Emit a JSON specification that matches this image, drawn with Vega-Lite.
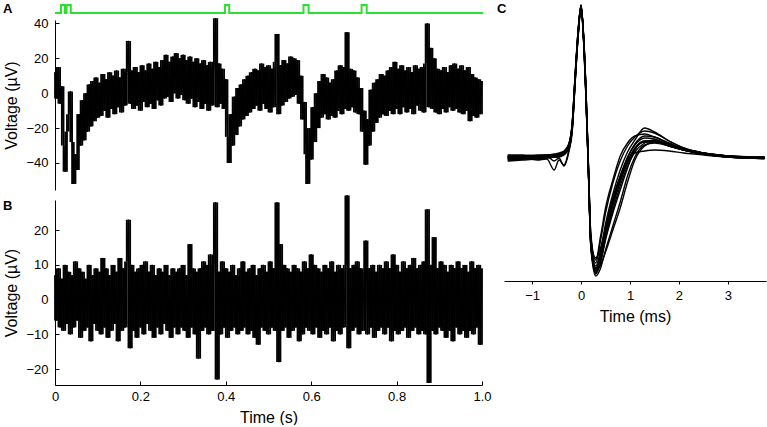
{
"$schema":"https://vega.github.io/schema/vega-lite/v6.json",
"padding":{"left":2,"top":1,"right":0,"bottom":0},
"config":{
 "view":{"stroke":null},
 "font":"Liberation Sans",
 "axis":{"grid":false,"domainColor":"#000","tickColor":"#000","labelColor":"#000","titleColor":"#000","labelFontSize":13,"titleFontSize":16,"titleFontWeight":"normal","labelFont":"Liberation Sans","titleFont":"Liberation Sans","domainWidth":1,"tickWidth":1,"labelFlush":false,"labelOverlap":false}
},
"datasets":{
"stim":[{"i":0,"t":0,"s":0},{"i":1,"t":0.014,"s":0},{"i":2,"t":0.014,"s":1},{"i":3,"t":0.023,"s":1},{"i":4,"t":0.023,"s":0},{"i":5,"t":0.027,"s":0},{"i":6,"t":0.027,"s":1},{"i":7,"t":0.037,"s":1},{"i":8,"t":0.037,"s":0},{"i":9,"t":0.398,"s":0},{"i":10,"t":0.398,"s":1},{"i":11,"t":0.408,"s":1},{"i":12,"t":0.408,"s":0},{"i":13,"t":0.582,"s":0},{"i":14,"t":0.582,"s":1},{"i":15,"t":0.594,"s":1},{"i":16,"t":0.594,"s":0},{"i":17,"t":0.718,"s":0},{"i":18,"t":0.718,"s":1},{"i":19,"t":0.73,"s":1},{"i":20,"t":0.73,"s":0},{"i":21,"t":1.003,"s":0}],
"trace":[
{"t":0,"a":12,"b":7},{"t":0.004,"a":-3,"b":-6},{"t":0.008,"a":15,"b":9},{"t":0.012,"a":-6,"b":-8},{"t":0.016,"a":4,"b":6},{"t":0.02,"a":-30,"b":-9},{"t":0.024,"a":-45,"b":10},{"t":0.028,"a":-22,"b":-7},{"t":0.032,"a":-12,"b":8},{"t":0.036,"a":1,"b":-10},
{"t":0.04,"a":-28,"b":7},{"t":0.044,"a":-52,"b":-8},{"t":0.048,"a":-35,"b":11},{"t":0.052,"a":-44,"b":-6},{"t":0.056,"a":-12,"b":9},{"t":0.06,"a":-30,"b":-11},{"t":0.064,"a":-4,"b":8},{"t":0.068,"a":-27,"b":-9},{"t":0.072,"a":0,"b":6},{"t":0.076,"a":-22,"b":-8},
{"t":0.08,"a":5,"b":10},{"t":0.084,"a":-19,"b":-12},{"t":0.088,"a":7,"b":7},{"t":0.092,"a":-16,"b":-7},{"t":0.096,"a":9,"b":9},{"t":0.1,"a":-14,"b":-9},{"t":0.104,"a":6,"b":8},{"t":0.108,"a":-13,"b":-10},{"t":0.112,"a":11,"b":12},{"t":0.116,"a":-10,"b":-8},
{"t":0.12,"a":8,"b":9},{"t":0.124,"a":-14,"b":-11},{"t":0.128,"a":12,"b":7},{"t":0.132,"a":-9,"b":-9},{"t":0.136,"a":10,"b":10},{"t":0.14,"a":-12,"b":-7},{"t":0.144,"a":13,"b":8},{"t":0.148,"a":-8,"b":-12},{"t":0.152,"a":9,"b":12},{"t":0.156,"a":-11,"b":-9},
{"t":0.16,"a":14,"b":9},{"t":0.164,"a":-7,"b":-8},{"t":0.168,"a":12,"b":11},{"t":0.172,"a":30,"b":23},{"t":0.176,"a":-6,"b":-14},{"t":0.18,"a":13,"b":10},{"t":0.184,"a":-9,"b":-9},{"t":0.188,"a":15,"b":8},{"t":0.192,"a":-7,"b":-11},{"t":0.196,"a":12,"b":9},
{"t":0.2,"a":-10,"b":-8},{"t":0.204,"a":16,"b":10},{"t":0.208,"a":-5,"b":-10},{"t":0.212,"a":13,"b":11},{"t":0.216,"a":-8,"b":-7},{"t":0.22,"a":17,"b":8},{"t":0.224,"a":-6,"b":-9},{"t":0.228,"a":14,"b":10},{"t":0.232,"a":-9,"b":-11},{"t":0.236,"a":18,"b":7},
{"t":0.24,"a":-4,"b":-8},{"t":0.244,"a":15,"b":9},{"t":0.248,"a":-7,"b":-10},{"t":0.252,"a":19,"b":8},{"t":0.256,"a":-3,"b":-7},{"t":0.26,"a":22,"b":10},{"t":0.264,"a":-2,"b":-9},{"t":0.268,"a":18,"b":7},{"t":0.272,"a":-5,"b":-11},{"t":0.276,"a":21,"b":9},
{"t":0.28,"a":0,"b":-8},{"t":0.284,"a":23,"b":8},{"t":0.288,"a":-3,"b":-10},{"t":0.292,"a":20,"b":9},{"t":0.296,"a":-1,"b":-8},{"t":0.3,"a":22,"b":10},{"t":0.304,"a":-4,"b":-9},{"t":0.308,"a":19,"b":7},{"t":0.312,"a":-6,"b":-11},{"t":0.316,"a":21,"b":16},
{"t":0.32,"a":-3,"b":-8},{"t":0.324,"a":18,"b":9},{"t":0.328,"a":-8,"b":-10},{"t":0.332,"a":20,"b":8},{"t":0.336,"a":-5,"b":-17},{"t":0.34,"a":17,"b":9},{"t":0.344,"a":-9,"b":-9},{"t":0.348,"a":19,"b":11},{"t":0.352,"a":-6,"b":-8},{"t":0.356,"a":16,"b":10},
{"t":0.36,"a":-10,"b":-10},{"t":0.364,"a":18,"b":13},{"t":0.368,"a":-7,"b":-9},{"t":0.372,"a":15,"b":10},{"t":0.376,"a":43,"b":28},{"t":0.38,"a":-8,"b":-23},{"t":0.384,"a":17,"b":8},{"t":0.388,"a":-6,"b":-10},{"t":0.392,"a":14,"b":11},{"t":0.396,"a":-9,"b":-8},
{"t":0.4,"a":8,"b":9},{"t":0.404,"a":-25,"b":-11},{"t":0.408,"a":-40,"b":8},{"t":0.412,"a":-12,"b":-9},{"t":0.416,"a":-30,"b":10},{"t":0.42,"a":-2,"b":-8},{"t":0.424,"a":-24,"b":7},{"t":0.428,"a":3,"b":-10},{"t":0.432,"a":-19,"b":9},{"t":0.436,"a":5,"b":-9},
{"t":0.44,"a":-15,"b":11},{"t":0.444,"a":8,"b":-8},{"t":0.448,"a":-13,"b":8},{"t":0.452,"a":10,"b":-10},{"t":0.456,"a":-11,"b":9},{"t":0.46,"a":12,"b":-9},{"t":0.464,"a":-9,"b":10},{"t":0.468,"a":14,"b":-11},{"t":0.472,"a":-7,"b":7},{"t":0.476,"a":13,"b":-13},
{"t":0.48,"a":-10,"b":9},{"t":0.484,"a":17,"b":-8},{"t":0.488,"a":-6,"b":10},{"t":0.492,"a":15,"b":-9},{"t":0.496,"a":-9,"b":8},{"t":0.5,"a":16,"b":-10},{"t":0.504,"a":-11,"b":11},{"t":0.508,"a":14,"b":-8},{"t":0.512,"a":-8,"b":9},{"t":0.516,"a":18,"b":-9},
{"t":0.52,"a":34,"b":28},{"t":0.524,"a":-12,"b":-18},{"t":0.528,"a":16,"b":16},{"t":0.532,"a":-7,"b":-9},{"t":0.536,"a":19,"b":10},{"t":0.54,"a":-5,"b":-8},{"t":0.544,"a":17,"b":9},{"t":0.548,"a":-3,"b":-11},{"t":0.552,"a":21,"b":8},{"t":0.556,"a":-2,"b":-9},
{"t":0.56,"a":20,"b":10},{"t":0.564,"a":-1,"b":-8},{"t":0.568,"a":19,"b":9},{"t":0.572,"a":-6,"b":-12},{"t":0.576,"a":10,"b":8},{"t":0.58,"a":-15,"b":-10},{"t":0.584,"a":-5,"b":11},{"t":0.588,"a":-35,"b":-8},{"t":0.592,"a":-52,"b":9},{"t":0.596,"a":-20,"b":-9},
{"t":0.6,"a":-38,"b":13},{"t":0.604,"a":-8,"b":-10},{"t":0.608,"a":-28,"b":10},{"t":0.612,"a":0,"b":-8},{"t":0.616,"a":-20,"b":9},{"t":0.62,"a":7,"b":-11},{"t":0.624,"a":-14,"b":8},{"t":0.628,"a":11,"b":-9},{"t":0.632,"a":-12,"b":10},{"t":0.636,"a":9,"b":-10},
{"t":0.64,"a":-15,"b":9},{"t":0.644,"a":6,"b":-8},{"t":0.648,"a":-13,"b":11},{"t":0.652,"a":8,"b":-12},{"t":0.656,"a":-14,"b":8},{"t":0.66,"a":13,"b":-9},{"t":0.664,"a":-10,"b":10},{"t":0.668,"a":16,"b":-10},{"t":0.672,"a":-12,"b":9},{"t":0.676,"a":15,"b":-8},
{"t":0.68,"a":-9,"b":10},{"t":0.684,"a":35,"b":30},{"t":0.688,"a":-10,"b":-14},{"t":0.692,"a":14,"b":9},{"t":0.696,"a":-8,"b":-9},{"t":0.7,"a":13,"b":10},{"t":0.704,"a":-11,"b":-8},{"t":0.708,"a":9,"b":11},{"t":0.712,"a":-12,"b":-10},{"t":0.716,"a":3,"b":9},
{"t":0.72,"a":-22,"b":-9},{"t":0.724,"a":-10,"b":8},{"t":0.728,"a":-41,"b":17},{"t":0.732,"a":-15,"b":-10},{"t":0.736,"a":-30,"b":9},{"t":0.74,"a":2,"b":-8},{"t":0.744,"a":-22,"b":10},{"t":0.748,"a":6,"b":-11},{"t":0.752,"a":-17,"b":8},{"t":0.756,"a":8,"b":-9},
{"t":0.76,"a":-14,"b":10},{"t":0.764,"a":11,"b":-8},{"t":0.768,"a":-12,"b":9},{"t":0.772,"a":10,"b":-10},{"t":0.776,"a":-13,"b":11},{"t":0.78,"a":13,"b":-8},{"t":0.784,"a":-10,"b":9},{"t":0.788,"a":15,"b":-12},{"t":0.792,"a":-12,"b":13},{"t":0.796,"a":18,"b":-9},
{"t":0.8,"a":-9,"b":10},{"t":0.804,"a":14,"b":-10},{"t":0.808,"a":-12,"b":8},{"t":0.812,"a":16,"b":-9},{"t":0.816,"a":-8,"b":11},{"t":0.82,"a":13,"b":-8},{"t":0.824,"a":-11,"b":9},{"t":0.828,"a":15,"b":-11},{"t":0.832,"a":-9,"b":10},{"t":0.836,"a":12,"b":-9},
{"t":0.84,"a":-12,"b":12},{"t":0.844,"a":16,"b":-8},{"t":0.848,"a":-7,"b":9},{"t":0.852,"a":14,"b":-10},{"t":0.856,"a":-10,"b":10},{"t":0.86,"a":15,"b":-9},{"t":0.864,"a":-11,"b":11},{"t":0.868,"a":17,"b":-10},{"t":0.872,"a":40,"b":26},{"t":0.876,"a":-8,"b":-24},
{"t":0.88,"a":26,"b":10},{"t":0.884,"a":-9,"b":-9},{"t":0.888,"a":20,"b":18},{"t":0.892,"a":-11,"b":-10},{"t":0.896,"a":14,"b":9},{"t":0.9,"a":-12,"b":-8},{"t":0.904,"a":13,"b":11},{"t":0.908,"a":-9,"b":-9},{"t":0.912,"a":15,"b":10},{"t":0.916,"a":-11,"b":-11},
{"t":0.92,"a":12,"b":8},{"t":0.924,"a":-8,"b":-9},{"t":0.928,"a":16,"b":10},{"t":0.932,"a":-10,"b":-12},{"t":0.936,"a":17,"b":9},{"t":0.94,"a":-9,"b":-8},{"t":0.944,"a":14,"b":11},{"t":0.948,"a":-11,"b":-10},{"t":0.952,"a":16,"b":9},{"t":0.956,"a":-12,"b":-9},
{"t":0.96,"a":13,"b":10},{"t":0.964,"a":-10,"b":-11},{"t":0.968,"a":15,"b":8},{"t":0.972,"a":-16,"b":-9},{"t":0.976,"a":11,"b":11},{"t":0.98,"a":-13,"b":-10},{"t":0.984,"a":9,"b":9},{"t":0.988,"a":-14,"b":-8},{"t":0.992,"a":8,"b":10},{"t":0.996,"a":-12,"b":-13},
{"t":1.0,"a":7,"b":9}
],
"wave":[
{"w":0,"t":-1.5,"v":0},{"w":0,"t":-1.2,"v":1},{"w":0,"t":-0.9,"v":1},{"w":0,"t":-0.7,"v":2},{"w":0,"t":-0.55,"v":2},{"w":0,"t":-0.45,"v":3},{"w":0,"t":-0.35,"v":5},{"w":0,"t":-0.25,"v":12},{"w":0,"t":-0.18,"v":33},{"w":0,"t":-0.12,"v":80},{"w":0,"t":-0.06,"v":125},{"w":0,"t":0,"v":152},{"w":0,"t":0.05,"v":122},{"w":0,"t":0.1,"v":65},{"w":0,"t":0.15,"v":-10},{"w":0,"t":0.2,"v":-85},{"w":0,"t":0.3,"v":-112},{"w":0,"t":0.4,"v":-100},{"w":0,"t":0.5,"v":-75},{"w":0,"t":0.65,"v":-45},{"w":0,"t":0.8,"v":-22},{"w":0,"t":0.95,"v":-3},{"w":0,"t":1.1,"v":10},{"w":0,"t":1.3,"v":17},{"w":0,"t":1.5,"v":17},{"w":0,"t":1.8,"v":12},{"w":0,"t":2.1,"v":8},{"w":0,"t":2.5,"v":4},{"w":0,"t":3.0,"v":2},{"w":0,"t":3.5,"v":0},{"w":0,"t":3.75,"v":0},
{"w":1,"t":-1.5,"v":-3},{"w":1,"t":-1.2,"v":-2},{"w":1,"t":-0.9,"v":-1},{"w":1,"t":-0.7,"v":0},{"w":1,"t":-0.55,"v":1},{"w":1,"t":-0.45,"v":2},{"w":1,"t":-0.35,"v":4},{"w":1,"t":-0.25,"v":10},{"w":1,"t":-0.18,"v":30},{"w":1,"t":-0.12,"v":76},{"w":1,"t":-0.06,"v":122},{"w":1,"t":0,"v":151},{"w":1,"t":0.05,"v":120},{"w":1,"t":0.1,"v":60},{"w":1,"t":0.15,"v":-15},{"w":1,"t":0.2,"v":-90},{"w":1,"t":0.3,"v":-118},{"w":1,"t":0.4,"v":-110},{"w":1,"t":0.5,"v":-92},{"w":1,"t":0.65,"v":-68},{"w":1,"t":0.8,"v":-44},{"w":1,"t":0.95,"v":-18},{"w":1,"t":1.1,"v":1},{"w":1,"t":1.3,"v":13},{"w":1,"t":1.5,"v":15},{"w":1,"t":1.8,"v":12},{"w":1,"t":2.1,"v":8},{"w":1,"t":2.5,"v":4},{"w":1,"t":3.0,"v":1},{"w":1,"t":3.5,"v":0},{"w":1,"t":3.75,"v":-1},
{"w":2,"t":-1.5,"v":3},{"w":2,"t":-1.2,"v":3},{"w":2,"t":-0.9,"v":2},{"w":2,"t":-0.7,"v":3},{"w":2,"t":-0.55,"v":4},{"w":2,"t":-0.45,"v":5},{"w":2,"t":-0.35,"v":7},{"w":2,"t":-0.25,"v":14},{"w":2,"t":-0.18,"v":36},{"w":2,"t":-0.12,"v":84},{"w":2,"t":-0.06,"v":128},{"w":2,"t":0,"v":153},{"w":2,"t":0.05,"v":124},{"w":2,"t":0.1,"v":70},{"w":2,"t":0.15,"v":-5},{"w":2,"t":0.2,"v":-78},{"w":2,"t":0.3,"v":-105},{"w":2,"t":0.4,"v":-82},{"w":2,"t":0.5,"v":-55},{"w":2,"t":0.65,"v":-25},{"w":2,"t":0.8,"v":-3},{"w":2,"t":0.95,"v":12},{"w":2,"t":1.1,"v":21},{"w":2,"t":1.3,"v":27},{"w":2,"t":1.5,"v":25},{"w":2,"t":1.8,"v":17},{"w":2,"t":2.1,"v":10},{"w":2,"t":2.5,"v":5},{"w":2,"t":3.0,"v":2},{"w":2,"t":3.5,"v":1},{"w":2,"t":3.75,"v":1},
{"w":3,"t":-1.5,"v":1},{"w":3,"t":-1.2,"v":0},{"w":3,"t":-0.9,"v":-2},{"w":3,"t":-0.7,"v":-1},{"w":3,"t":-0.55,"v":-12},{"w":3,"t":-0.45,"v":-2},{"w":3,"t":-0.35,"v":-7},{"w":3,"t":-0.25,"v":8},{"w":3,"t":-0.18,"v":28},{"w":3,"t":-0.12,"v":78},{"w":3,"t":-0.06,"v":124},{"w":3,"t":0,"v":152},{"w":3,"t":0.05,"v":121},{"w":3,"t":0.1,"v":63},{"w":3,"t":0.15,"v":-12},{"w":3,"t":0.2,"v":-86},{"w":3,"t":0.3,"v":-114},{"w":3,"t":0.4,"v":-102},{"w":3,"t":0.5,"v":-78},{"w":3,"t":0.65,"v":-48},{"w":3,"t":0.8,"v":-24},{"w":3,"t":0.95,"v":-5},{"w":3,"t":1.1,"v":9},{"w":3,"t":1.3,"v":16},{"w":3,"t":1.5,"v":16},{"w":3,"t":1.8,"v":12},{"w":3,"t":2.1,"v":8},{"w":3,"t":2.5,"v":4},{"w":3,"t":3.0,"v":2},{"w":3,"t":3.5,"v":0},{"w":3,"t":3.75,"v":0},
{"w":4,"t":-1.5,"v":-1},{"w":4,"t":-1.2,"v":0},{"w":4,"t":-0.9,"v":0},{"w":4,"t":-0.7,"v":1},{"w":4,"t":-0.55,"v":2},{"w":4,"t":-0.45,"v":2},{"w":4,"t":-0.35,"v":4},{"w":4,"t":-0.25,"v":11},{"w":4,"t":-0.18,"v":31},{"w":4,"t":-0.12,"v":79},{"w":4,"t":-0.06,"v":123},{"w":4,"t":0,"v":150},{"w":4,"t":0.05,"v":118},{"w":4,"t":0.1,"v":62},{"w":4,"t":0.15,"v":-12},{"w":4,"t":0.2,"v":-84},{"w":4,"t":0.3,"v":-100},{"w":4,"t":0.4,"v":-90},{"w":4,"t":0.5,"v":-70},{"w":4,"t":0.65,"v":-40},{"w":4,"t":0.8,"v":-18},{"w":4,"t":0.95,"v":-2},{"w":4,"t":1.1,"v":5},{"w":4,"t":1.3,"v":7},{"w":4,"t":1.5,"v":8},{"w":4,"t":1.8,"v":7},{"w":4,"t":2.1,"v":5},{"w":4,"t":2.5,"v":3},{"w":4,"t":3.0,"v":1},{"w":4,"t":3.5,"v":0},{"w":4,"t":3.75,"v":0},
{"w":5,"t":-1.5,"v":2},{"w":5,"t":-1.2,"v":1},{"w":5,"t":-0.9,"v":2},{"w":5,"t":-0.7,"v":3},{"w":5,"t":-0.55,"v":3},{"w":5,"t":-0.45,"v":4},{"w":5,"t":-0.35,"v":6},{"w":5,"t":-0.25,"v":13},{"w":5,"t":-0.18,"v":34},{"w":5,"t":-0.12,"v":82},{"w":5,"t":-0.06,"v":126},{"w":5,"t":0,"v":152},{"w":5,"t":0.05,"v":123},{"w":5,"t":0.1,"v":67},{"w":5,"t":0.15,"v":-8},{"w":5,"t":0.2,"v":-83},{"w":5,"t":0.3,"v":-110},{"w":5,"t":0.4,"v":-96},{"w":5,"t":0.5,"v":-72},{"w":5,"t":0.65,"v":-42},{"w":5,"t":0.8,"v":-18},{"w":5,"t":0.95,"v":1},{"w":5,"t":1.1,"v":13},{"w":5,"t":1.3,"v":20},{"w":5,"t":1.5,"v":19},{"w":5,"t":1.8,"v":13},{"w":5,"t":2.1,"v":9},{"w":5,"t":2.5,"v":5},{"w":5,"t":3.0,"v":2},{"w":5,"t":3.5,"v":1},{"w":5,"t":3.75,"v":0},
{"w":6,"t":-1.5,"v":-2},{"w":6,"t":-1.2,"v":-1},{"w":6,"t":-0.9,"v":0},{"w":6,"t":-0.7,"v":1},{"w":6,"t":-0.55,"v":1},{"w":6,"t":-0.45,"v":2},{"w":6,"t":-0.35,"v":5},{"w":6,"t":-0.25,"v":12},{"w":6,"t":-0.18,"v":32},{"w":6,"t":-0.12,"v":80},{"w":6,"t":-0.06,"v":124},{"w":6,"t":0,"v":151},{"w":6,"t":0.05,"v":121},{"w":6,"t":0.1,"v":64},{"w":6,"t":0.15,"v":-11},{"w":6,"t":0.2,"v":-86},{"w":6,"t":0.3,"v":-115},{"w":6,"t":0.4,"v":-104},{"w":6,"t":0.5,"v":-80},{"w":6,"t":0.65,"v":-52},{"w":6,"t":0.8,"v":-28},{"w":6,"t":0.95,"v":-8},{"w":6,"t":1.1,"v":6},{"w":6,"t":1.3,"v":15},{"w":6,"t":1.5,"v":18},{"w":6,"t":1.8,"v":13},{"w":6,"t":2.1,"v":8},{"w":6,"t":2.5,"v":4},{"w":6,"t":3.0,"v":1},{"w":6,"t":3.5,"v":0},{"w":6,"t":3.75,"v":0},
{"w":7,"t":-1.5,"v":1},{"w":7,"t":-1.2,"v":2},{"w":7,"t":-0.9,"v":1},{"w":7,"t":-0.7,"v":1},{"w":7,"t":-0.55,"v":2},{"w":7,"t":-0.45,"v":3},{"w":7,"t":-0.35,"v":5},{"w":7,"t":-0.25,"v":11},{"w":7,"t":-0.18,"v":32},{"w":7,"t":-0.12,"v":81},{"w":7,"t":-0.06,"v":125},{"w":7,"t":0,"v":152},{"w":7,"t":0.05,"v":122},{"w":7,"t":0.1,"v":66},{"w":7,"t":0.15,"v":-9},{"w":7,"t":0.2,"v":-84},{"w":7,"t":0.3,"v":-111},{"w":7,"t":0.4,"v":-98},{"w":7,"t":0.5,"v":-74},{"w":7,"t":0.65,"v":-44},{"w":7,"t":0.8,"v":-20},{"w":7,"t":0.95,"v":0},{"w":7,"t":1.1,"v":14},{"w":7,"t":1.3,"v":22},{"w":7,"t":1.5,"v":21},{"w":7,"t":1.8,"v":14},{"w":7,"t":2.1,"v":9},{"w":7,"t":2.5,"v":5},{"w":7,"t":3.0,"v":2},{"w":7,"t":3.5,"v":0},{"w":7,"t":3.75,"v":1},
{"w":8,"t":-1.5,"v":0},{"w":8,"t":-1.2,"v":-1},{"w":8,"t":-0.9,"v":1},{"w":8,"t":-0.7,"v":2},{"w":8,"t":-0.55,"v":-3},{"w":8,"t":-0.45,"v":0},{"w":8,"t":-0.35,"v":-8},{"w":8,"t":-0.25,"v":6},{"w":8,"t":-0.18,"v":27},{"w":8,"t":-0.12,"v":76},{"w":8,"t":-0.06,"v":121},{"w":8,"t":0,"v":150},{"w":8,"t":0.05,"v":119},{"w":8,"t":0.1,"v":61},{"w":8,"t":0.15,"v":-14},{"w":8,"t":0.2,"v":-88},{"w":8,"t":0.3,"v":-116},{"w":8,"t":0.4,"v":-104},{"w":8,"t":0.5,"v":-82},{"w":8,"t":0.65,"v":-55},{"w":8,"t":0.8,"v":-32},{"w":8,"t":0.95,"v":-10},{"w":8,"t":1.1,"v":8},{"w":8,"t":1.3,"v":17},{"w":8,"t":1.5,"v":17},{"w":8,"t":1.8,"v":12},{"w":8,"t":2.1,"v":8},{"w":8,"t":2.5,"v":4},{"w":8,"t":3.0,"v":1},{"w":8,"t":3.5,"v":0},{"w":8,"t":3.75,"v":0},
{"w":9,"t":-1.5,"v":2},{"w":9,"t":-1.2,"v":2},{"w":9,"t":-0.9,"v":3},{"w":9,"t":-0.7,"v":3},{"w":9,"t":-0.55,"v":3},{"w":9,"t":-0.45,"v":4},{"w":9,"t":-0.35,"v":6},{"w":9,"t":-0.25,"v":13},{"w":9,"t":-0.18,"v":34},{"w":9,"t":-0.12,"v":83},{"w":9,"t":-0.06,"v":127},{"w":9,"t":0,"v":153},{"w":9,"t":0.05,"v":124},{"w":9,"t":0.1,"v":68},{"w":9,"t":0.15,"v":-7},{"w":9,"t":0.2,"v":-80},{"w":9,"t":0.3,"v":-108},{"w":9,"t":0.4,"v":-92},{"w":9,"t":0.5,"v":-66},{"w":9,"t":0.65,"v":-36},{"w":9,"t":0.8,"v":-12},{"w":9,"t":0.95,"v":6},{"w":9,"t":1.1,"v":18},{"w":9,"t":1.3,"v":30},{"w":9,"t":1.5,"v":26},{"w":9,"t":1.8,"v":17},{"w":9,"t":2.1,"v":10},{"w":9,"t":2.5,"v":5},{"w":9,"t":3.0,"v":2},{"w":9,"t":3.5,"v":1},{"w":9,"t":3.75,"v":1},
{"w":10,"t":-1.5,"v":-1},{"w":10,"t":-1.2,"v":0},{"w":10,"t":-0.9,"v":-1},{"w":10,"t":-0.7,"v":0},{"w":10,"t":-0.55,"v":1},{"w":10,"t":-0.45,"v":1},{"w":10,"t":-0.35,"v":3},{"w":10,"t":-0.25,"v":9},{"w":10,"t":-0.18,"v":29},{"w":10,"t":-0.12,"v":77},{"w":10,"t":-0.06,"v":122},{"w":10,"t":0,"v":151},{"w":10,"t":0.05,"v":120},{"w":10,"t":0.1,"v":62},{"w":10,"t":0.15,"v":-13},{"w":10,"t":0.2,"v":-87},{"w":10,"t":0.3,"v":-113},{"w":10,"t":0.4,"v":-107},{"w":10,"t":0.5,"v":-94},{"w":10,"t":0.65,"v":-72},{"w":10,"t":0.8,"v":-50},{"w":10,"t":0.95,"v":-24},{"w":10,"t":1.1,"v":-2},{"w":10,"t":1.3,"v":12},{"w":10,"t":1.5,"v":16},{"w":10,"t":1.8,"v":13},{"w":10,"t":2.1,"v":9},{"w":10,"t":2.5,"v":4},{"w":10,"t":3.0,"v":1},{"w":10,"t":3.5,"v":0},{"w":10,"t":3.75,"v":0},
{"w":11,"t":-1.5,"v":1},{"w":11,"t":-1.2,"v":1},{"w":11,"t":-0.9,"v":2},{"w":11,"t":-0.7,"v":2},{"w":11,"t":-0.55,"v":3},{"w":11,"t":-0.45,"v":3},{"w":11,"t":-0.35,"v":6},{"w":11,"t":-0.25,"v":14},{"w":11,"t":-0.18,"v":35},{"w":11,"t":-0.12,"v":84},{"w":11,"t":-0.06,"v":127},{"w":11,"t":0,"v":152},{"w":11,"t":0.05,"v":123},{"w":11,"t":0.1,"v":69},{"w":11,"t":0.15,"v":-6},{"w":11,"t":0.2,"v":-76},{"w":11,"t":0.3,"v":-102},{"w":11,"t":0.4,"v":-78},{"w":11,"t":0.5,"v":-50},{"w":11,"t":0.65,"v":-22},{"w":11,"t":0.8,"v":2},{"w":11,"t":0.95,"v":15},{"w":11,"t":1.1,"v":22},{"w":11,"t":1.3,"v":24},{"w":11,"t":1.5,"v":21},{"w":11,"t":1.8,"v":15},{"w":11,"t":2.1,"v":9},{"w":11,"t":2.5,"v":4},{"w":11,"t":3.0,"v":2},{"w":11,"t":3.5,"v":1},{"w":11,"t":3.75,"v":0}
]
},
"spacing":4,
"hconcat":[
 {"bounds":"flush","spacing":10,"vconcat":[
   {"width":427,"height":5,
    "layer":[
     {"data":{"name":"stim"},"mark":{"type":"line","color":"#2ee02e","strokeWidth":2,"clip":false},
      "encoding":{"x":{"field":"t","type":"quantitative","scale":{"domain":[0,1],"nice":false},"axis":null},
                  "y":{"field":"s","type":"quantitative","scale":{"domain":[0.375,1],"nice":false,"zero":false},"axis":null},
                  "order":{"field":"i","type":"quantitative"}}},
     {"data":{"values":[{}]},"mark":{"type":"text","text":"A","fontWeight":"bold","fontSize":13,"align":"left","baseline":"alphabetic","font":"Liberation Sans"},
      "encoding":{"x":{"datum":-0.122,"type":"quantitative"},"y":{"datum":0,"type":"quantitative"}}}
    ]},
   {"width":427,"height":170,
    "data":{"name":"trace"},
    "transform":[{"window":[{"op":"lead","field":"a","as":"a2"},{"op":"lag","field":"a","as":"a0"}],"sort":[{"field":"t"}]}],
    "layer":[
     {"transform":[{"filter":"datum.a2 != null"}],
      "mark":{"type":"rule","color":"#000","strokeWidth":1.8},
      "encoding":{"x":{"field":"t","type":"quantitative","scale":{"domain":[0,1],"nice":false},"axis":null},
                  "y":{"field":"a","type":"quantitative","scale":{"domain":[-55.5,42],"nice":false,"zero":false},
                       "axis":{"title":"Voltage (µV)","values":[-40,-20,0,20,40],"tickSize":-4,"labelPadding":11,"titlePadding":6}},
                  "y2":{"field":"a2"}}},
     {"transform":[{"filter":"datum.a0 != null"}],
      "mark":{"type":"rule","color":"#000","strokeWidth":1.8},
      "encoding":{"x":{"field":"t","type":"quantitative"},"y":{"field":"a","type":"quantitative"},"y2":{"field":"a0"}}},
     {"mark":{"type":"line","color":"#000","strokeWidth":1},
      "encoding":{"x":{"field":"t","type":"quantitative"},"y":{"field":"a","type":"quantitative"}}}
    ]},
   {"width":427,"height":185,
    "data":{"name":"trace"},
    "transform":[{"window":[{"op":"lead","field":"b","as":"b2"},{"op":"lag","field":"b","as":"b0"}],"sort":[{"field":"t"}]}],
    "layer":[
     {"transform":[{"filter":"datum.b2 != null"}],
      "mark":{"type":"rule","color":"#000","strokeWidth":1.8},
      "encoding":{"x":{"field":"t","type":"quantitative","scale":{"domain":[0,1],"nice":false},
                       "axis":{"title":"Time (s)","values":[0,0.2,0.4,0.6,0.8,1.0],"labelExpr":"datum.value == 0 ? '0' : format(datum.value, '.1f')","tickSize":-4,"labelPadding":9,"titlePadding":6}},
                  "y":{"field":"b","type":"quantitative","scale":{"domain":[-24.6,28.7],"nice":false,"zero":false},
                       "axis":{"title":"Voltage (µV)","values":[-20,-10,0,10,20],"tickSize":-4,"labelPadding":11,"titlePadding":6}},
                  "y2":{"field":"b2"}}},
     {"transform":[{"filter":"datum.b0 != null"}],
      "mark":{"type":"rule","color":"#000","strokeWidth":1.8},
      "encoding":{"x":{"field":"t","type":"quantitative"},"y":{"field":"b","type":"quantitative"},"y2":{"field":"b0"}}},
     {"mark":{"type":"line","color":"#000","strokeWidth":1},
      "encoding":{"x":{"field":"t","type":"quantitative"},"y":{"field":"b","type":"quantitative"}}},
     {"data":{"values":[{}]},"mark":{"type":"text","text":"B","fontWeight":"bold","fontSize":13,"align":"left","baseline":"alphabetic","font":"Liberation Sans"},
      "encoding":{"x":{"datum":-0.122,"type":"quantitative"},"y":{"datum":25.9,"type":"quantitative"}}}
    ]}
 ]},
 {"width":262,"height":276,
  "layer":[
   {"data":{"name":"wave"},"mark":{"type":"line","color":"#000","strokeWidth":1.4,"interpolate":"monotone"},
    "encoding":{"x":{"field":"t","type":"quantitative","scale":{"domain":[-1.575,3.78],"nice":false,"zero":false},
                     "axis":{"title":"Time (ms)","values":[-1,0,1,2,3],"tickSize":3,"labelPadding":5,"titlePadding":6}},
                "y":{"field":"v","type":"quantitative","scale":{"domain":[-123,153],"nice":false,"zero":false},"axis":null},
                "detail":{"field":"w","type":"nominal"}}},
   {"data":{"values":[{}]},"mark":{"type":"text","text":"C","fontWeight":"bold","fontSize":13,"align":"left","baseline":"alphabetic","font":"Liberation Sans"},
    "encoding":{"x":{"datum":-1.72,"type":"quantitative"},"y":{"datum":145,"type":"quantitative"}}}
  ]}
]
}
